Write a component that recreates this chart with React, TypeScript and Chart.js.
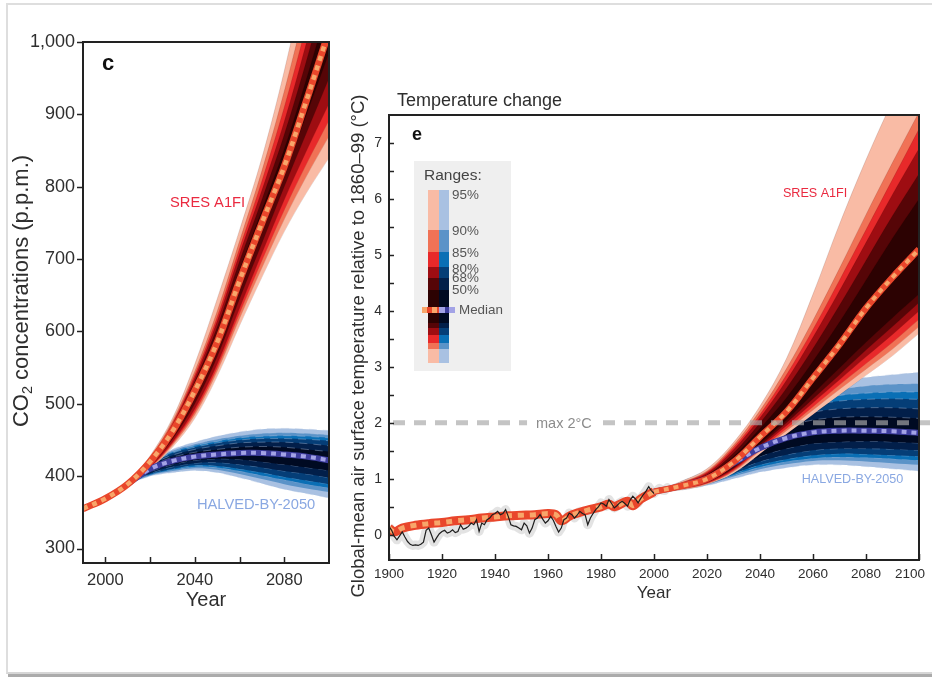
import { useEffect, useRef } from "react";
import { Chart, registerables } from "chart.js";

Chart.register(...registerables);

const FONT = '"Liberation Sans", Arial, Helvetica, sans-serif';
const INK = "#2e2e2e";

// ---------------- Panel c : CO2 concentrations ----------------
const C_HIST_YEARS = [1990, 2000, 2010];
const C_HIST_CO2 = [355, 369, 389];
const C_YEARS = [2010, 2020, 2030, 2040, 2050, 2060, 2070, 2080, 2090, 2100];

const C_A1FI_P025 = [389, 410, 440, 480, 538, 608, 675, 738, 792, 840];
const C_A1FI_P050 = [389, 411, 443, 485, 545, 618, 688, 755, 815, 870];
const C_A1FI_P075 = [389, 412, 445, 489, 550, 625, 698, 768, 832, 892];
const C_A1FI_P100 = [389, 413, 447, 493, 555, 632, 708, 782, 850, 915];
const C_A1FI_P160 = [389, 415, 451, 500, 565, 645, 722, 800, 875, 950];
const C_A1FI_P250 = [389, 417, 455, 507, 574, 657, 737, 818, 900, 985];
const C_A1FI_MED = [389, 420, 462, 518, 585, 670, 750, 828, 920, 1015];
const C_A1FI_P750 = [389, 422, 466, 525, 597, 685, 768, 852, 950, 1055];
const C_A1FI_P840 = [389, 423, 469, 531, 606, 697, 782, 872, 975, 1090];
const C_A1FI_P900 = [389, 424, 471, 536, 614, 707, 795, 890, 1000, 1120];
const C_A1FI_P925 = [389, 425, 473, 540, 620, 715, 808, 910, 1025, 1150];
const C_A1FI_P950 = [389, 426, 476, 545, 628, 725, 822, 932, 1055, 1185];
const C_A1FI_P975 = [389, 428, 480, 555, 645, 740, 840, 960, 1100, 1250];

const C_HALF_P025 = [389, 400, 405, 408, 405, 398, 390, 382, 376, 370];
const C_HALF_P050 = [389, 401, 407, 411, 409, 403, 396, 389, 383, 378];
const C_HALF_P075 = [389, 402, 409, 413, 412, 407, 401, 395, 389, 384];
const C_HALF_P100 = [389, 403, 410, 415, 414, 410, 405, 399, 394, 389];
const C_HALF_P160 = [389, 404, 413, 418, 419, 416, 412, 407, 403, 398];
const C_HALF_P250 = [389, 406, 416, 422, 424, 423, 420, 416, 412, 408];
const C_HALF_MED = [389, 410, 421, 427, 430, 432, 432, 430, 427, 422];
const C_HALF_P750 = [389, 413, 426, 433, 437, 440, 441, 440, 437, 434];
const C_HALF_P840 = [389, 415, 429, 437, 442, 446, 447, 447, 445, 442];
const C_HALF_P900 = [389, 416, 432, 440, 446, 450, 452, 452, 451, 449];
const C_HALF_P925 = [389, 417, 433, 442, 448, 453, 455, 456, 455, 453];
const C_HALF_P950 = [389, 418, 435, 444, 451, 456, 459, 460, 459, 457];
const C_HALF_P975 = [389, 419, 437, 447, 455, 461, 465, 466, 465, 463];

const C_Y_TICKS = [300, 400, 500, 600, 700, 800, 900, 1000];
const C_X_TICK_MARKS = [2000, 2020, 2040, 2060, 2080];
const C_X_TICK_LABELS = [2000, 2040, 2080];

// ---------------- Panel e : temperature change ----------------
const E_OBS_START = 1900;
const E_OBS = [
  0.15, 0.08, -0.03, -0.09, -0.02, 0.05, -0.04, -0.12, -0.17, -0.19,
  -0.18, -0.19, -0.17, -0.13, 0.08, 0.12, 0.0, -0.13, -0.05, 0.02,
  0.06, 0.08, 0.03, 0.05, 0.09, 0.04, 0.06, 0.18, 0.1, 0.12,
  0.15, 0.21, 0.18, 0.27, 0.06, 0.21, 0.18, 0.27, 0.3, 0.36,
  0.38, 0.42, 0.36, 0.38, 0.45, 0.33, 0.18, 0.16, 0.15, 0.12,
  0.09, 0.21, 0.16, 0.03, 0.12, 0.27, 0.3, 0.36, 0.28, 0.21,
  0.25, 0.33, 0.26, 0.15, 0.05, 0.12, 0.27, 0.3, 0.39, 0.36,
  0.3, 0.35, 0.42, 0.38, 0.36, 0.18, 0.3, 0.38, 0.45, 0.5,
  0.57, 0.55, 0.51, 0.63, 0.56, 0.48, 0.52, 0.57, 0.6, 0.56,
  0.51, 0.62, 0.69, 0.64, 0.57, 0.65, 0.72, 0.78, 0.86, 0.79,
  0.74, 0.78, 0.83, 0.8, 0.79, 0.84, 0.8,
];

const E_HIST_YEARS = [1900, 1902, 1905, 1910, 1915, 1920, 1925, 1930, 1935, 1940, 1945, 1950, 1955, 1960, 1963, 1965, 1968, 1970, 1975, 1980, 1983, 1985, 1990, 1992, 1995, 2000];
const E_HIST_MED = [0.12, 0.05, 0.12, 0.17, 0.2, 0.22, 0.25, 0.27, 0.3, 0.32, 0.34, 0.35, 0.36, 0.38, 0.36, 0.25, 0.33, 0.37, 0.44, 0.5, 0.55, 0.5, 0.6, 0.52, 0.64, 0.77];

const E_YEARS = [2000, 2010, 2020, 2030, 2040, 2050, 2060, 2070, 2080, 2090, 2100];

const E_A1FI_P025 = [0.77, 0.8, 0.9, 1.1, 1.45, 1.8, 2.15, 2.5, 2.85, 3.2, 3.6];
const E_A1FI_P050 = [0.77, 0.81, 0.91, 1.13, 1.5, 1.86, 2.23, 2.6, 2.96, 3.32, 3.72];
const E_A1FI_P075 = [0.77, 0.82, 0.92, 1.15, 1.53, 1.9, 2.29, 2.68, 3.06, 3.44, 3.85];
const E_A1FI_P100 = [0.77, 0.83, 0.93, 1.17, 1.56, 1.95, 2.36, 2.77, 3.18, 3.58, 4.0];
const E_A1FI_P160 = [0.77, 0.84, 0.95, 1.19, 1.59, 2.0, 2.43, 2.86, 3.3, 3.72, 4.15];
const E_A1FI_P250 = [0.77, 0.85, 0.97, 1.22, 1.63, 2.05, 2.52, 2.98, 3.44, 3.88, 4.3];
const E_A1FI_MED = [0.77, 0.87, 1.0, 1.3, 1.75, 2.2, 2.8, 3.4, 4.05, 4.6, 5.1];
const E_A1FI_P750 = [0.77, 0.89, 1.04, 1.4, 1.9, 2.45, 3.1, 3.8, 4.55, 5.3, 6.0];
const E_A1FI_P840 = [0.77, 0.9, 1.07, 1.46, 2.0, 2.62, 3.33, 4.1, 4.9, 5.7, 6.45];
const E_A1FI_P900 = [0.77, 0.91, 1.1, 1.52, 2.09, 2.76, 3.53, 4.36, 5.22, 6.08, 6.9];
const E_A1FI_P925 = [0.77, 0.92, 1.12, 1.56, 2.15, 2.86, 3.67, 4.55, 5.45, 6.35, 7.25];
const E_A1FI_P950 = [0.77, 0.93, 1.14, 1.6, 2.22, 2.97, 3.83, 4.76, 5.72, 6.65, 7.55];
const E_A1FI_P975 = [0.77, 0.95, 1.18, 1.65, 2.3, 3.15, 4.3, 5.55, 6.7, 7.75, 8.7];

const E_HALF_P025 = [0.77, 0.8, 0.88, 1.0, 1.12, 1.2, 1.25, 1.25, 1.22, 1.18, 1.14];
const E_HALF_P050 = [0.77, 0.81, 0.9, 1.04, 1.17, 1.26, 1.32, 1.33, 1.31, 1.28, 1.25];
const E_HALF_P075 = [0.77, 0.82, 0.91, 1.07, 1.21, 1.31, 1.37, 1.39, 1.38, 1.36, 1.33];
const E_HALF_P100 = [0.77, 0.83, 0.92, 1.09, 1.25, 1.35, 1.42, 1.45, 1.44, 1.42, 1.4];
const E_HALF_P160 = [0.77, 0.84, 0.94, 1.13, 1.31, 1.43, 1.51, 1.54, 1.54, 1.53, 1.51];
const E_HALF_P250 = [0.77, 0.85, 0.96, 1.19, 1.4, 1.54, 1.63, 1.66, 1.67, 1.66, 1.64];
const E_HALF_MED = [0.77, 0.87, 1.0, 1.28, 1.55, 1.73, 1.83, 1.86, 1.86, 1.85, 1.82];
const E_HALF_P750 = [0.77, 0.89, 1.05, 1.37, 1.7, 1.93, 2.05, 2.1, 2.11, 2.1, 2.08];
const E_HALF_P840 = [0.77, 0.9, 1.08, 1.43, 1.8, 2.05, 2.19, 2.25, 2.27, 2.27, 2.25];
const E_HALF_P900 = [0.77, 0.91, 1.1, 1.48, 1.88, 2.15, 2.31, 2.39, 2.42, 2.43, 2.42];
const E_HALF_P925 = [0.77, 0.92, 1.12, 1.51, 1.93, 2.22, 2.4, 2.49, 2.53, 2.55, 2.55];
const E_HALF_P950 = [0.77, 0.93, 1.14, 1.55, 1.99, 2.3, 2.5, 2.6, 2.66, 2.69, 2.7];
const E_HALF_P975 = [0.77, 0.95, 1.17, 1.6, 2.07, 2.4, 2.62, 2.74, 2.81, 2.86, 2.9];

const E_Y_TICKS = [0, 1, 2, 3, 4, 5, 6, 7];
const E_Y_MINOR = [0, 0.5, 1, 1.5, 2, 2.5, 3, 3.5, 4, 4.5, 5, 5.5, 6, 6.5, 7];
const E_X_TICKS = [1900, 1920, 1940, 1960, 1980, 2000, 2020, 2040, 2060, 2080, 2100];

const LIMIT_VALUE = 2;
const LIMIT_LABEL = "max 2°C";
const LIMIT_LABEL_YEAR = 1966;

const RANGE_LABELS = ["95%", "90%", "85%", "80%", "68%", "50%"];
const RED_BANDS = ["#f9bba5", "#f07256", "#e8292a", "#9e0d12", "#560507", "#2c0202"];
const BLUE_BANDS = ["#a9c1e2", "#5b93c8", "#0a6fb5", "#053e77", "#021f4a", "#000a22"];

const RED_MED = "#e9462b";
const RED_DOTS = "#f8a66a";
const BLUE_MED = "#3d3d9e";
const BLUE_DOTS = "#a3a3e6";
const A1FI_COLOR = "#ea2a40";
const HALF_COLOR = "#8aa8e2";

// label anchors (data coordinates)
const C_A1FI_LABEL = { x: 2045.7, y: 777 };
const C_HALF_LABEL = { x: 2067.4, y: 360 };
const E_A1FI_LABEL = { x: 2060.8, y: 6.09 };
const E_HALF_LABEL = { x: 2074.9, y: 0.98 };

// ---------------- helpers ----------------
function series(years: number[], vals: number[]) {
  return years.map((x, i) => ({ x, y: vals[i] }));
}

function addFan(list: any[], years: number[], lows: number[][], highs: number[][], colors: string[], edge: any) {
  lows.forEach((low, i) => {
    const lowIndex = list.length;
    list.push({
      data: series(years, low), borderColor: edge.color, borderWidth: edge.width, borderDash: edge.dash,
      pointRadius: 0, tension: 0.35, fill: false,
    });
    list.push({
      data: series(years, highs[i]), borderColor: edge.color, borderWidth: edge.width, borderDash: edge.dash,
      pointRadius: 0, tension: 0.35, fill: lowIndex, backgroundColor: colors[i],
    });
  });
}

function addMedian(list: any[], years: number[], vals: number[], base: string, dots: string, w: number, dw: number, dash: number[]) {
  list.push({ data: series(years, vals), borderColor: base, borderWidth: w, pointRadius: 0, tension: 0.35, fill: false, borderCapStyle: "butt" });
  list.push({ data: series(years, vals), borderColor: dots, borderWidth: dw, borderDash: dash, pointRadius: 0, tension: 0.35, fill: false, borderCapStyle: "butt" });
}

function finalize(list: any[]) {
  list.forEach((d, i) => { d.order = list.length - i; });
  return list;
}

function line(ctx: CanvasRenderingContext2D, x1: number, y1: number, x2: number, y2: number) {
  ctx.beginPath(); ctx.moveTo(x1, y1); ctx.lineTo(x2, y2); ctx.stroke();
}

const RED_EDGE = { color: "rgba(50,0,0,0.18)", width: 0.7, dash: [] };
const BLUE_EDGE = { color: "rgba(175,195,225,0.4)", width: 1, dash: [8, 6] };

function buildC() {
  const list: any[] = [];
  addFan(list, C_YEARS,
    [C_HALF_P025, C_HALF_P050, C_HALF_P075, C_HALF_P100, C_HALF_P160, C_HALF_P250],
    [C_HALF_P975, C_HALF_P950, C_HALF_P925, C_HALF_P900, C_HALF_P840, C_HALF_P750], BLUE_BANDS, BLUE_EDGE);
  addFan(list, C_YEARS,
    [C_A1FI_P025, C_A1FI_P050, C_A1FI_P075, C_A1FI_P100, C_A1FI_P160, C_A1FI_P250],
    [C_A1FI_P975, C_A1FI_P950, C_A1FI_P925, C_A1FI_P900, C_A1FI_P840, C_A1FI_P750], RED_BANDS, RED_EDGE);
  addMedian(list, C_YEARS, C_HALF_MED, BLUE_MED, BLUE_DOTS, 6, 4, [5, 5]);
  addMedian(list, C_HIST_YEARS.concat(C_YEARS.slice(1)), C_HIST_CO2.concat(C_A1FI_MED.slice(1)), RED_MED, RED_DOTS, 7, 4.5, [5, 5]);
  return finalize(list);
}

function buildE() {
  const list: any[] = [];
  addFan(list, E_YEARS,
    [E_HALF_P025, E_HALF_P050, E_HALF_P075, E_HALF_P100, E_HALF_P160, E_HALF_P250],
    [E_HALF_P975, E_HALF_P950, E_HALF_P925, E_HALF_P900, E_HALF_P840, E_HALF_P750], BLUE_BANDS, BLUE_EDGE);
  addFan(list, E_YEARS,
    [E_A1FI_P025, E_A1FI_P050, E_A1FI_P075, E_A1FI_P100, E_A1FI_P160, E_A1FI_P250],
    [E_A1FI_P975, E_A1FI_P950, E_A1FI_P925, E_A1FI_P900, E_A1FI_P840, E_A1FI_P750], RED_BANDS, RED_EDGE);
  const obsYears = E_OBS.map((_, i) => E_OBS_START + i);
  list.push({ data: series(obsYears, E_OBS), borderColor: "rgba(200,200,200,0.5)", borderWidth: 9, pointRadius: 0, tension: 0, fill: false, borderJoinStyle: "round" });
  addMedian(list, E_HIST_YEARS, E_HIST_MED, RED_MED, RED_DOTS, 9, 5, [6, 6]);
  list.push({ data: series(obsYears, E_OBS), borderColor: "#1e1e1e", borderWidth: 1.2, pointRadius: 0, tension: 0, fill: false });
  addMedian(list, E_YEARS, E_HALF_MED, BLUE_MED, BLUE_DOTS, 6, 4, [5, 5]);
  addMedian(list, E_YEARS, E_A1FI_MED, RED_MED, RED_DOTS, 6.5, 4, [5, 5]);
  return finalize(list);
}

// ---------------- plugins ----------------
const cDecor = {
  id: "cDecor",
  afterDatasetsDraw(chart: any) {
    const { ctx, scales: { x, y } } = chart;
    ctx.save();
    ctx.textAlign = "center"; ctx.textBaseline = "middle";
    ctx.font = `14.7px ${FONT}`;
    ctx.fillStyle = A1FI_COLOR;
    ctx.fillText("SRES A1FI", x.getPixelForValue(C_A1FI_LABEL.x), y.getPixelForValue(C_A1FI_LABEL.y));
    ctx.fillStyle = HALF_COLOR;
    ctx.fillText("HALVED-BY-2050", x.getPixelForValue(C_HALF_LABEL.x), y.getPixelForValue(C_HALF_LABEL.y));
    ctx.restore();
  },
  afterDraw(chart: any) {
    const { ctx, chartArea: a, scales: { x, y } } = chart;
    ctx.save();
    ctx.strokeStyle = "#222"; ctx.lineWidth = 2;
    ctx.strokeRect(a.left, a.top, a.right - a.left, a.bottom - a.top);
    ctx.lineWidth = 1.5;
    C_Y_TICKS.forEach((v) => { const py = Math.round(y.getPixelForValue(v)) + 0.5; line(ctx, a.left - 6, py, a.left, py); });
    C_X_TICK_MARKS.forEach((v) => { const px = Math.round(x.getPixelForValue(v)) + 0.5; line(ctx, px, a.bottom, px, a.bottom - 6); });
    // panel letter
    ctx.fillStyle = "#111"; ctx.font = `bold 22px ${FONT}`; ctx.textAlign = "center"; ctx.textBaseline = "alphabetic";
    ctx.fillText("c", a.left + 25, a.top + 28);
    // y title with subscript
    ctx.translate(22, 291);
    ctx.rotate(-Math.PI / 2);
    ctx.fillStyle = INK; ctx.textBaseline = "middle"; ctx.textAlign = "left";
    const big = `22px ${FONT}`; const small = `14.5px ${FONT}`;
    ctx.font = big; const w1 = ctx.measureText("CO").width; const w3 = ctx.measureText(" concentrations (p.p.m.)").width;
    ctx.font = small; const w2 = ctx.measureText("2").width;
    let sx = -(w1 + w2 + w3) / 2;
    ctx.font = big; ctx.fillText("CO", sx, 0); sx += w1;
    ctx.font = small; ctx.fillText("2", sx, 6); sx += w2;
    ctx.font = big; ctx.fillText(" concentrations (p.p.m.)", sx, 0);
    ctx.restore();
  },
};

const eDecor = {
  id: "eDecor",
  afterDatasetsDraw(chart: any) {
    const { ctx, chartArea: a, scales: { x, y } } = chart;
    ctx.save();
    // 2 °C limit
    const py = y.getPixelForValue(LIMIT_VALUE);
    ctx.strokeStyle = "rgba(168,168,168,0.68)"; ctx.lineWidth = 5; ctx.setLineDash([12, 9]);
    line(ctx, a.left + 4, py, chart.width, py);
    ctx.setLineDash([]);
    ctx.font = `14.5px ${FONT}`;
    const lx = x.getPixelForValue(LIMIT_LABEL_YEAR);
    const lw = ctx.measureText(LIMIT_LABEL).width;
    ctx.fillStyle = "#ffffff"; ctx.fillRect(lx - lw / 2 - 9, py - 9, lw + 18, 18);
    ctx.fillStyle = "#8c8c8c"; ctx.textAlign = "center"; ctx.textBaseline = "middle";
    ctx.fillText(LIMIT_LABEL, lx, py + 1);
    // scenario labels
    ctx.font = `12.6px ${FONT}`;
    ctx.fillStyle = A1FI_COLOR;
    ctx.fillText("SRES A1FI", x.getPixelForValue(E_A1FI_LABEL.x), y.getPixelForValue(E_A1FI_LABEL.y));
    ctx.fillStyle = HALF_COLOR;
    ctx.fillText("HALVED-BY-2050", x.getPixelForValue(E_HALF_LABEL.x), y.getPixelForValue(E_HALF_LABEL.y));
    ctx.restore();
  },
  afterDraw(chart: any) {
    const { ctx, chartArea: a, scales: { x, y } } = chart;
    ctx.save();
    ctx.strokeStyle = "#222"; ctx.lineWidth = 2;
    ctx.strokeRect(a.left, a.top, a.right - a.left, a.bottom - a.top);
    ctx.lineWidth = 1.5;
    E_Y_MINOR.forEach((v) => { const p = Math.round(y.getPixelForValue(v)) + 0.5; line(ctx, a.left, p, a.left + 5, p); });
    E_X_TICKS.forEach((v) => { const p = Math.round(x.getPixelForValue(v)) + 0.5; line(ctx, p, a.bottom, p, a.bottom - 6); });
    // x tick labels
    ctx.fillStyle = INK; ctx.font = `13.5px ${FONT}`; ctx.textAlign = "center"; ctx.textBaseline = "top";
    E_X_TICKS.forEach((v) => {
      const t = String(v);
      const hw = ctx.measureText(t).width / 2;
      const px = Math.min(x.getPixelForValue(v), chart.width - 7 - hw);
      ctx.fillText(t, px, a.bottom + 8);
    });
    // panel letter and title
    ctx.fillStyle = "#111"; ctx.font = `bold 18px ${FONT}`; ctx.textBaseline = "alphabetic";
    ctx.fillText("e", a.left + 28, a.top + 25);
    ctx.fillStyle = INK; ctx.font = `18px ${FONT}`; ctx.textAlign = "left";
    ctx.fillText("Temperature change", a.left + 8, a.top - 9);
    // legend
    const L = a.left + 25, T = a.top + 46;
    ctx.fillStyle = "#efefef"; ctx.fillRect(L, T, 97, 210);
    ctx.fillStyle = "#444"; ctx.font = `15.5px ${FONT}`; ctx.textBaseline = "middle";
    ctx.fillText("Ranges:", L + 10, T + 15);
    const cx = L + 14;
    const upper = [[29, 69], [69, 91], [91, 106], [106, 117], [117, 129], [129, 146]];
    const lower = [[188, 202], [182, 188], [174, 182], [167, 174], [162, 167], [152, 162]];
    const mid = 149;
    for (let i = 0; i < 6; i++) {
      ctx.fillStyle = RED_BANDS[i];
      ctx.fillRect(cx, T + upper[i][0], 11, upper[i][1] - upper[i][0]);
      ctx.fillRect(cx, T + lower[i][0], 11, lower[i][1] - lower[i][0]);
      ctx.fillStyle = BLUE_BANDS[i];
      ctx.fillRect(cx + 11, T + upper[i][0], 10, upper[i][1] - upper[i][0]);
      ctx.fillRect(cx + 11, T + lower[i][0], 10, lower[i][1] - lower[i][0]);
    }
    ctx.fillStyle = RED_BANDS[5]; ctx.fillRect(cx, T + 146, 11, 6);
    ctx.fillStyle = BLUE_BANDS[5]; ctx.fillRect(cx + 11, T + 146, 10, 6);
    // median marker
    ctx.lineWidth = 6;
    ctx.strokeStyle = RED_MED; line(ctx, cx - 6, T + mid, cx + 11, T + mid);
    ctx.strokeStyle = RED_DOTS; ctx.setLineDash([5, 5]); line(ctx, cx - 6, T + mid, cx + 11, T + mid); ctx.setLineDash([]);
    ctx.strokeStyle = BLUE_MED; line(ctx, cx + 11, T + mid, cx + 27, T + mid);
    ctx.strokeStyle = BLUE_DOTS; ctx.setLineDash([6, 4]); line(ctx, cx + 11, T + mid, cx + 27, T + mid); ctx.setLineDash([]);
    ctx.fillStyle = "#555"; ctx.font = `13.4px ${FONT}`;
    const ly = [34, 70, 92, 108, 117, 129];
    RANGE_LABELS.forEach((t, i) => ctx.fillText(t, cx + 24, T + ly[i]));
    ctx.fillText("Median", cx + 31, T + mid);
    // y title
    ctx.translate(19, 346);
    ctx.rotate(-Math.PI / 2);
    ctx.fillStyle = INK; ctx.font = `18.5px ${FONT}`; ctx.textAlign = "center";
    ctx.fillText("Global-mean air surface temperature relative to 1860–99 (°C)", 0, 0);
    ctx.restore();
  },
};

function useChart(ref: any, make: () => any) {
  useEffect(() => {
    const chart = new Chart(ref.current, make());
    return () => chart.destroy();
  }, []);
}

const noGrid = { display: false, drawTicks: false };

export default function App() {
  const cRef = useRef<HTMLCanvasElement>(null);
  const eRef = useRef<HTMLCanvasElement>(null);

  useChart(cRef, () => ({
    type: "line",
    data: { datasets: buildC() },
    plugins: [cDecor],
    options: {
      animation: false, responsive: false, maintainAspectRatio: false, events: [],
      layout: { padding: { left: 0, top: 42, right: 11, bottom: 64 } },
      plugins: { legend: { display: false }, tooltip: { enabled: false } },
      scales: {
        x: {
          type: "linear", min: 1990, max: 2100, grid: noGrid, border: { display: false },
          afterBuildTicks: (s: any) => { s.ticks = C_X_TICK_LABELS.map((v) => ({ value: v })); },
          afterFit: (s: any) => { s.height = 50; },
          ticks: { font: { family: FONT, size: 16.5 }, color: INK, padding: 8, maxRotation: 0, autoSkip: false, callback: (v: any) => String(v) },
          title: { display: true, text: "Year", font: { family: FONT, size: 20 }, color: INK, padding: { top: 0, bottom: 1 } },
        },
        y: {
          type: "linear", min: 280, max: 1000, grid: noGrid, border: { display: false },
          afterBuildTicks: (s: any) => { s.ticks = C_Y_TICKS.map((v) => ({ value: v })); },
          afterFit: (s: any) => { s.width = 83; },
          ticks: { font: { family: FONT, size: 18 }, color: INK, padding: 8, autoSkip: false, callback: (v: any) => Number(v).toLocaleString("en-US") },
        },
      },
    },
  }));

  useChart(eRef, () => ({
    type: "line",
    data: { datasets: buildE() },
    plugins: [eDecor],
    options: {
      animation: false, responsive: false, maintainAspectRatio: false, events: [],
      layout: { padding: { left: 0, top: 115, right: 13, bottom: 72 } },
      plugins: { legend: { display: false }, tooltip: { enabled: false } },
      scales: {
        x: {
          type: "linear", min: 1900, max: 2100, grid: noGrid, border: { display: false },
          afterFit: (s: any) => { s.height = 45; },
          ticks: { display: false },
          title: { display: true, text: "Year", font: { family: FONT, size: 17 }, color: INK, padding: { top: 0, bottom: 1 } },
        },
        y: {
          type: "linear", min: -0.45, max: 7.5, grid: noGrid, border: { display: false },
          afterBuildTicks: (s: any) => { s.ticks = E_Y_TICKS.map((v) => ({ value: v })); },
          afterFit: (s: any) => { s.width = 49; },
          ticks: { font: { family: FONT, size: 14 }, color: INK, padding: 7, autoSkip: false, callback: (v: any) => String(v) },
        },
      },
    },
  }));

  return (
    <div style={{ position: "absolute", left: 0, top: 0, width: 932, height: 677, overflow: "hidden", background: "#fff" }}>
      <div style={{ position: "absolute", left: 6, top: 3, width: 960, height: 667, borderLeft: "2px solid #dedede", borderTop: "2px solid #dedede", borderBottom: "2px solid #d6d6d6", boxShadow: "2px 3px 0 #ababab" }} />
      <canvas ref={cRef} width={340} height={677} style={{ position: "absolute", left: 0, top: 0, display: "block" }} />
      <canvas ref={eRef} width={592} height={677} style={{ position: "absolute", left: 340, top: 0, display: "block" }} />
    </div>
  );
}
